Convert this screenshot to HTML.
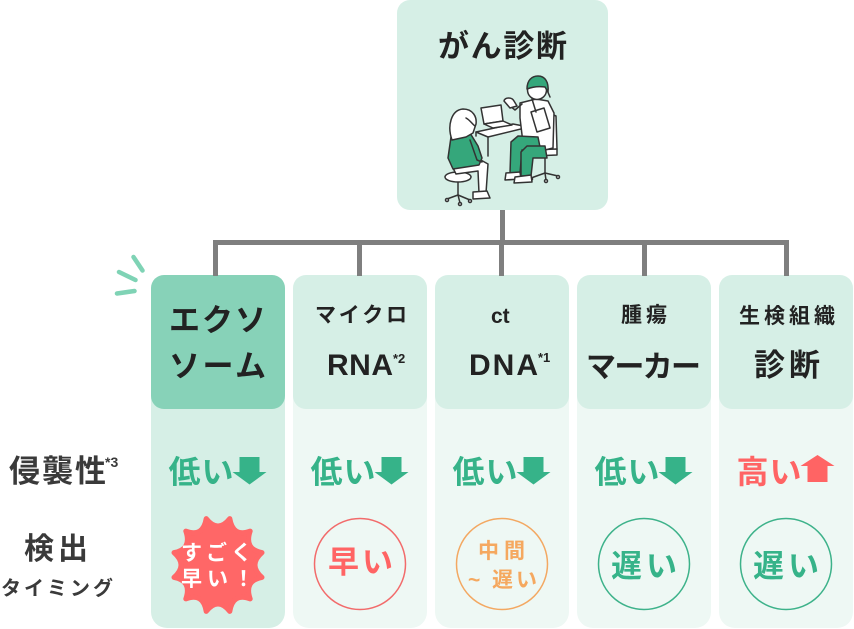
<!DOCTYPE html>
<html><head><meta charset="utf-8"><style>
html,body{margin:0;padding:0;background:#fff;}
body{width:854px;height:629px;overflow:hidden;position:relative;}
svg{position:absolute;left:0;top:0;}
text{font-family:"Liberation Sans","Noto Sans CJK JP",sans-serif;font-weight:700;}
</style></head><body>
<svg width="854" height="629" viewBox="0 0 854 629" xmlns="http://www.w3.org/2000/svg">
<!-- lower columns -->
<rect x="151" y="380" width="134" height="248" rx="16" fill="#d6efe6"/>
<rect x="293" y="380" width="134" height="248" rx="16" fill="#eef8f4"/>
<rect x="435" y="380" width="134" height="248" rx="16" fill="#eef8f4"/>
<rect x="577" y="380" width="134" height="248" rx="16" fill="#eef8f4"/>
<rect x="719" y="380" width="134" height="248" rx="16" fill="#eef8f4"/>
<!-- top boxes -->
<rect x="151" y="275" width="134" height="134" rx="13" fill="#87d2b8"/>
<rect x="293" y="275" width="134" height="134" rx="13" fill="#d6efe6"/>
<rect x="435" y="275" width="134" height="134" rx="13" fill="#d6efe6"/>
<rect x="577" y="275" width="134" height="134" rx="13" fill="#d6efe6"/>
<rect x="719" y="275" width="134" height="134" rx="13" fill="#d6efe6"/>
<!-- main box -->
<rect x="397" y="0" width="211" height="210" rx="13" fill="#d6efe6"/>
<!-- connectors -->
<g stroke="#7f7f7f" stroke-width="5" fill="none">
<line x1="502.5" y1="210" x2="502.5" y2="243"/>
<line x1="213" y1="242.5" x2="789" y2="242.5"/>
<line x1="215.5" y1="240" x2="215.5" y2="276"/>
<line x1="359.5" y1="240" x2="359.5" y2="276"/>
<line x1="501.5" y1="240" x2="501.5" y2="276"/>
<line x1="644.5" y1="240" x2="644.5" y2="276"/>
<line x1="786.5" y1="240" x2="786.5" y2="276"/>
</g>
<!-- sparks -->
<g stroke="#7fd3b5" stroke-width="4.5" stroke-linecap="round">
<line x1="133.5" y1="257" x2="142.5" y2="270.5"/>
<line x1="119" y1="272" x2="135.5" y2="280"/>
<line x1="117" y1="293.5" x2="134.5" y2="291"/>
</g>

<!-- illustration -->
<g stroke="#333" stroke-width="1.5" stroke-linejoin="round" stroke-linecap="round">
<polygon points="476,132 513,124 529,127 488,137" fill="#fff"/>
<line x1="488" y1="137" x2="488" y2="156" fill="none"/>
<line x1="476" y1="132" x2="476" y2="136" fill="none"/>
<polygon points="481,108 501,105 503,121 484,124" fill="#fff"/>
<polygon points="484,124 503,121 512,125 493,128" fill="#fff"/>
<line x1="458" y1="181" x2="458" y2="195" fill="none"/>
<polyline points="447,199 458,195 470,200" fill="none"/>
<line x1="458" y1="195" x2="460" y2="203" fill="none"/>
<circle cx="447" cy="200" r="1.5" fill="#fff"/>
<circle cx="470" cy="201" r="1.5" fill="#fff"/>
<circle cx="460" cy="204" r="1.5" fill="#fff"/>
<ellipse cx="458" cy="177" rx="13" ry="5" fill="#fff"/>
<path d="M452,166 L479,159 L488,164 L486,193 L479,193 L478,171 L456,174 Z" fill="#fff"/>
<path d="M473,192 L487,191 L490,198 L473,199 Z" fill="#fff"/>
<path d="M451,137 L470,133 L478,146 L482,158 L479,165 L453,169 L448,158 Z" fill="#35a77b"/>
<path d="M470,140 L477,160 L482,162" fill="none"/>
<path d="M452,140 C447,126 451,110 463,109 C473,109 477,117 476,124 L473,133 L466,137 Z" fill="#fff"/>
<path d="M466,118 C470,120 472,124 475,126" fill="none"/>
<line x1="545" y1="155" x2="545" y2="173" fill="none"/>
<polyline points="531,178 545,173 558,176" fill="none"/>
<line x1="545" y1="173" x2="546" y2="180" fill="none"/>
<circle cx="531" cy="179" r="1.5" fill="#fff"/>
<circle cx="558" cy="177" r="1.5" fill="#fff"/>
<circle cx="546" cy="181" r="1.5" fill="#fff"/>
<path d="M549,113 L556,116 L557,149 L550,150 Z" fill="#fff"/>
<path d="M531,150 L557,149 L557,155 L533,156 Z" fill="#fff"/>
<path d="M520,103 L536,99 L548,101 L554,113 L553,148 L533,153 L523,143 L520,118 Z" fill="#fff"/>
<polygon points="531,112 544,108 550,128 537,132" fill="#fff"/>
<path d="M522,104 L515,110 L509,105" fill="none"/>
<path d="M504,101 C505,97 512,97 514,101 L517,106 L510,108 Z" fill="#fff"/>
<path d="M538,137 L518,136 L511,142 L510,173 L520,173 L522,150 L541,152 Z" fill="#35a77b"/>
<path d="M545,146 L527,146 L521,152 L521,176 L531,176 L533,158 L547,158 Z" fill="#35a77b"/>
<path d="M506,173 L520,172 L521,179 L505,180 Z" fill="#fff"/>
<path d="M515,177 L531,175 L532,182 L514,183 Z" fill="#fff"/>
<circle cx="537" cy="90" r="9.5" fill="#fff"/>
<path d="M527,89 C527,80 532,76 538,76 C545,76 549,82 548,92 L545,87 C538,86 532,87 527,89 Z" fill="#35a77b"/>
<path d="M547,90 L550,97" fill="none"/>
<path d="M532,99 L536,112" fill="none"/>
</g>

<!-- arrows -->
<g fill="#36b389">
<path d="M239.5,457 h20 v15 h7 l-17,12.5 l-17,-12.5 h7 z"/>
<path d="M381.5,457 h20 v15 h7 l-17,12.5 l-17,-12.5 h7 z"/>
<path d="M523.5,457 h20 v15 h7 l-17,12.5 l-17,-12.5 h7 z"/>
<path d="M665.5,457 h20 v15 h7 l-17,12.5 l-17,-12.5 h7 z"/>
</g>
<path d="M807.5,482 h20 v-16 h7 l-17,-11 l-17,11 h7 z" fill="#ff6464"/>

<!-- starburst -->
<path fill="#ff6767" stroke="#ff6767" stroke-width="5" stroke-linejoin="round"
d="M206.2,518.6 Q218,533.4 229.8,518.6 Q233,537.6 250.2,531.1 Q244,549.2 262,552.6 Q248,565 262,577.4 Q244,580.8 250.2,598.9 Q233,592.4 229.8,611.4 Q218,596.6 206.2,611.4 Q203,592.4 185.8,598.9 Q192,580.8 174,577.4 Q188,565 174,552.6 Q192,549.2 185.8,531.1 Q203,537.6 206.2,518.6 Z"/>

<!-- circles -->
<circle cx="360" cy="564" r="45.5" fill="none" stroke="#f26b6b" stroke-width="1.5"/>
<circle cx="502" cy="564" r="45.5" fill="none" stroke="#f3a862" stroke-width="1.5"/>
<circle cx="644" cy="564" r="45.5" fill="none" stroke="#3db28a" stroke-width="1.5"/>
<circle cx="786" cy="564" r="45.5" fill="none" stroke="#3db28a" stroke-width="1.5"/>

<!-- texts -->
<g fill="#222">
<text x="438" y="57" font-size="31" textLength="129" lengthAdjust="spacing">がん診断</text>
<text x="169" y="331" font-size="31" textLength="97" lengthAdjust="spacing">エクソ</text>
<text x="169" y="377" font-size="31" textLength="97" lengthAdjust="spacing">ソーム</text>
<text x="315" y="322" font-size="21" textLength="92" lengthAdjust="spacing">マイクロ</text>
<text x="327" y="375" font-size="30" textLength="66" lengthAdjust="spacing">RNA</text>
<text x="393" y="363" font-size="13">*2</text>
<text x="491" y="323" font-size="21">ct</text>
<text x="469" y="375" font-size="30" textLength="69" lengthAdjust="spacing">DNA</text>
<text x="538" y="362" font-size="13">*1</text>
<text x="621" y="322" font-size="21" textLength="46" lengthAdjust="spacing">腫瘍</text>
<text x="586" y="377" font-size="30" textLength="115" lengthAdjust="spacing">マーカー</text>
<text x="739" y="323" font-size="21" textLength="96" lengthAdjust="spacing">生検組織</text>
<text x="754" y="376" font-size="31" textLength="66" lengthAdjust="spacing">診断</text>
</g>
<g fill="#3a3a3a">
<text x="9" y="482" font-size="31" textLength="97" lengthAdjust="spacing">侵襲性</text>
<text x="105" y="467" font-size="14">*3</text>
<text x="24" y="559" font-size="30" textLength="64" lengthAdjust="spacing">検出</text>
<text x="1" y="595" font-size="20" textLength="112" lengthAdjust="spacing">タイミング</text>
</g>
<g fill="#36b389" font-size="32">
<text x="168.5" y="483" textLength="65" lengthAdjust="spacing">低い</text>
<text x="310.5" y="483" textLength="65" lengthAdjust="spacing">低い</text>
<text x="452.5" y="483" textLength="65" lengthAdjust="spacing">低い</text>
<text x="594.5" y="483" textLength="65" lengthAdjust="spacing">低い</text>
</g>
<text x="736.5" y="483" font-size="32" fill="#ff6464" textLength="65" lengthAdjust="spacing">高い</text>
<g fill="#fff" font-size="21">
<text x="181" y="560" textLength="71" lengthAdjust="spacing">すごく</text>
<text x="181" y="586" textLength="73" lengthAdjust="spacing">早い！</text>
</g>
<text x="328" y="573" font-size="31" fill="#ff6464" textLength="65" lengthAdjust="spacing">早い</text>
<g fill="#f5a85f" font-size="21">
<text x="478" y="558" textLength="47" lengthAdjust="spacing">中間</text>
<text x="468" y="587" textLength="69" lengthAdjust="spacing">~ 遅い</text>
</g>
<g fill="#36b389" font-size="31">
<text x="611" y="577" textLength="66" lengthAdjust="spacing">遅い</text>
<text x="753" y="577" textLength="66" lengthAdjust="spacing">遅い</text>
</g>
</svg>
</body></html>
